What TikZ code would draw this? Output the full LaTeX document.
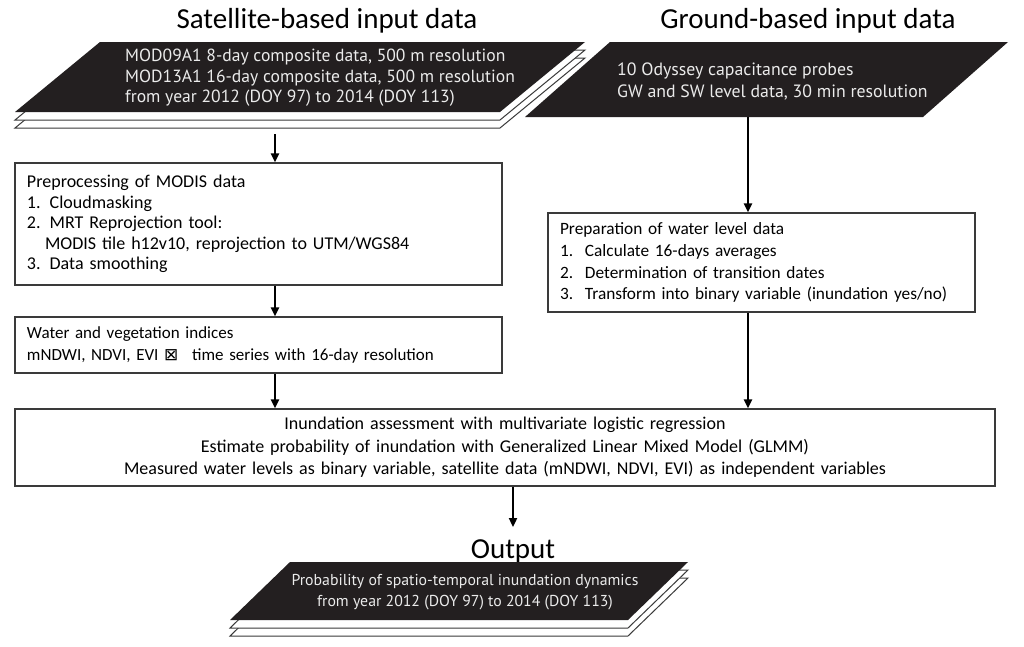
\documentclass[tikz,border=0pt]{standalone}
\usepackage{fontspec}
\setmainfont{Carlito}
\newfontfamily\headfont{PT Sans}
\newfontfamily\symfont{DejaVu Sans}
\usetikzlibrary{arrows.meta}
\definecolor{darkfill}{HTML}{231F20}
\definecolor{linegray}{HTML}{3A3A3A}
\begin{document}
\begin{tikzpicture}[x=1pt,y=-1pt,
 box/.style={draw=linegray,line width=1.2pt,fill=white,rectangle,inner xsep=12pt,inner ysep=0pt,font=\fontsize{18}{21.5}\selectfont},
 arr/.style={line width=2pt,-{Triangle[length=9pt,width=8pt]}},
 head/.style={font=\fontsize{29}{32}\selectfont,inner sep=0pt},
 darktext/.style={text=white!92!black,font=\headfont\fontsize{17.6}{20.5}\selectfont,inner sep=0pt},
 layer/.style={draw=linegray,line width=1pt,fill=white},
 darkpar/.style={fill=darkfill}]
\useasboundingbox (0,0) rectangle (1024,646);
\fill[white] (0,0) rectangle (1024,646);
% headings
\node[head] (hsat) at (327,21) {Satellite-based input data};
\node[head] (hgr) at (808,21) {Ground-based input data};
% satellite stack
\foreach \d in {16,8} \draw[layer] (100,42+\d) -- (585,42+\d) -- (500,112+\d) -- (15,112+\d) -- cycle;
\fill[darkpar] (100,42) -- (585,42) -- (500,112) -- (15,112) -- cycle;
\node[darktext,anchor=west,align=left] (sattxt) at (125,78) {MOD09A1 8-day composite data, 500 m resolution\\MOD13A1 16-day composite data, 500 m resolution\\from year 2012 (DOY 97) to 2014 (DOY 113)};
% ground
\fill[darkpar] (610,42) -- (1008,42) -- (923,117) -- (525,117) -- cycle;
\node[darktext,anchor=west,align=left,font=\headfont\fontsize{17.8}{22}\selectfont] (grtxt) at (617,81) {10 Odyssey capacitance probes\\GW and SW level data, 30 min resolution};
% boxes
\node[box,text width=463pt,minimum height=122pt,align=left,font=\fontsize{18}{20.5}\selectfont] (pre) at (258.5,224) {Preprocessing of MODIS data\\1. Cloudmasking\\2. MRT Reprojection tool:\\\hspace*{18pt}MODIS tile h12v10, reprojection to UTM/WGS84\\3. Data smoothing};
\node[box,text width=463pt,minimum height=56pt,align=left,font=\fontsize{17}{22}\selectfont] (wat) at (258.5,345) {Water and vegetation indices\\mNDWI, NDVI, EVI {\symfont ⊠}\hspace{8pt} time series with 16-day resolution};
\node[box,text width=403pt,minimum height=99pt,align=left,font=\fontsize{17.3}{21.8}\selectfont] (prep) at (761.5,262.5) {Preparation of water level data\\\makebox[25pt][l]{1.}Calculate 16-days averages\\\makebox[25pt][l]{2.}Determination of transition dates\\\makebox[25pt][l]{3.}Transform into binary variable (inundation yes/no)};
\node[box,text width=956pt,minimum height=77pt,align=center,font=\fontsize{18}{22.5}\selectfont] (inu) at (505,447.5) {Inundation assessment with multivariate logistic regression\\Estimate probability of inundation with Generalized Linear Mixed Model (GLMM)\\Measured water levels as binary variable, satellite data (mNDWI, NDVI, EVI) as independent variables};
% output
\node[head] (hout) at (513,551) {Output};
\foreach \d in {16,8} \draw[layer] (290,562+\d) -- (688,562+\d) -- (628,620+\d) -- (230,620+\d) -- cycle;
\fill[darkpar] (290,562) -- (688,562) -- (628,620) -- (230,620) -- cycle;
\node[darktext,align=center,font=\headfont\fontsize{15.8}{21}\selectfont] (outtxt) at (465,592.5) {Probability of spatio-temporal inundation dynamics\\from year 2012 (DOY 97) to 2014 (DOY 113)};
% connectors
\coordinate (satbot) at (275,134);
\coordinate (grbot) at (748,117);
\draw[arr] (satbot) -- (satbot |- pre.north);
\draw[arr] (pre.south -| satbot) -- (wat.north -| satbot);
\draw[arr] (wat.south -| satbot) -- (inu.north -| satbot);
\draw[arr] (grbot) -- (prep.north -| grbot);
\draw[arr] (prep.south -| grbot) -- (inu.north -| grbot);
\draw[arr] (inu.south -| hout) -- ([yshift=12pt]hout.north);
\end{tikzpicture}
\end{document}
